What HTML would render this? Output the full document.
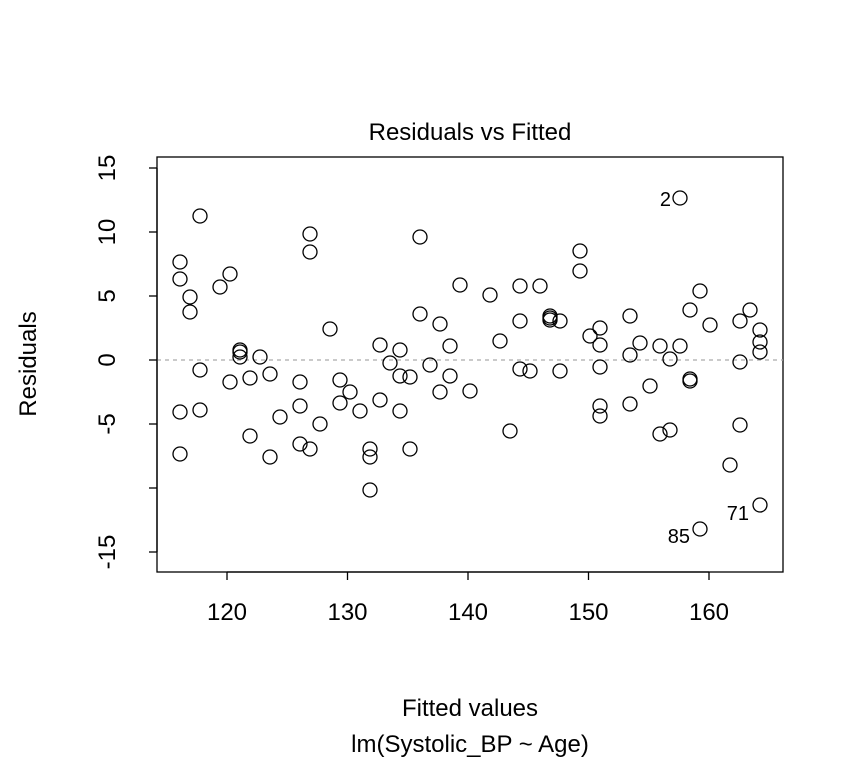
<!DOCTYPE html>
<html><head><meta charset="utf-8"><style>body{margin:0;background:#fff}</style></head>
<body>
<svg width="864" height="768" xmlns="http://www.w3.org/2000/svg" font-family="Liberation Sans, Arial, sans-serif">
<rect width="864" height="768" fill="#fff"/>
<rect x="157" y="157" width="626" height="415" fill="none" stroke="#000" stroke-width="1.3"/>
<line x1="157" y1="360" x2="783" y2="360" stroke="#aaa" stroke-dasharray="4,4" stroke-width="1.3"/>
<g stroke="#000" stroke-width="1.3">
<line x1="227" y1="572" x2="709" y2="572"/>
<line x1="227" y1="572" x2="227" y2="580"/><line x1="347.5" y1="572" x2="347.5" y2="580"/>
<line x1="468" y1="572" x2="468" y2="580"/><line x1="588.5" y1="572" x2="588.5" y2="580"/><line x1="709" y1="572" x2="709" y2="580"/>
<line x1="157" y1="168" x2="157" y2="552"/>
<line x1="149" y1="168" x2="157" y2="168"/><line x1="149" y1="232" x2="157" y2="232"/><line x1="149" y1="296" x2="157" y2="296"/>
<line x1="149" y1="360" x2="157" y2="360"/><line x1="149" y1="424" x2="157" y2="424"/><line x1="149" y1="488" x2="157" y2="488"/><line x1="149" y1="552" x2="157" y2="552"/>
</g>
<g font-size="24" text-anchor="middle">
<text x="227" y="620">120</text><text x="347.5" y="620">130</text><text x="468" y="620">140</text><text x="588.5" y="620">150</text><text x="709" y="620">160</text>
<g transform="rotate(-90)">
<text x="-168" y="115">15</text><text x="-232" y="115">10</text><text x="-296" y="115">5</text><text x="-360" y="115">0</text><text x="-424" y="115">-5</text><text x="-552" y="115">-15</text>
<text x="-364" y="36">Residuals</text>
</g>
<text x="470" y="140">Residuals vs Fitted</text>
<text x="470" y="716">Fitted values</text>
<text x="470" y="752">lm(Systolic_BP ~ Age)</text>
</g>
<g font-size="20" text-anchor="end"><text x="671" y="206">2</text><text x="690" y="543">85</text><text x="749" y="520">71</text></g>
<g fill="none" stroke="#000" stroke-width="1.3">
<circle cx="180" cy="262" r="7"/><circle cx="180" cy="279" r="7"/><circle cx="180" cy="412" r="7"/><circle cx="180" cy="454" r="7"/><circle cx="190" cy="297" r="7"/><circle cx="190" cy="312" r="7"/><circle cx="200" cy="216" r="7"/><circle cx="200" cy="370" r="7"/><circle cx="200" cy="410" r="7"/><circle cx="220" cy="287" r="7"/><circle cx="230" cy="274" r="7"/><circle cx="230" cy="382" r="7"/><circle cx="240" cy="350" r="7"/><circle cx="240" cy="352" r="7"/><circle cx="240" cy="357" r="7"/><circle cx="250" cy="378" r="7"/><circle cx="250" cy="436" r="7"/><circle cx="260" cy="357" r="7"/><circle cx="270" cy="374" r="7"/><circle cx="270" cy="457" r="7"/><circle cx="280" cy="417" r="7"/><circle cx="300" cy="382" r="7"/><circle cx="300" cy="406" r="7"/><circle cx="300" cy="444" r="7"/><circle cx="310" cy="234" r="7"/><circle cx="310" cy="252" r="7"/><circle cx="310" cy="449" r="7"/><circle cx="320" cy="424" r="7"/><circle cx="330" cy="329" r="7"/><circle cx="340" cy="380" r="7"/><circle cx="340" cy="403" r="7"/><circle cx="350" cy="392" r="7"/><circle cx="360" cy="411" r="7"/><circle cx="370" cy="449" r="7"/><circle cx="370" cy="457" r="7"/><circle cx="370" cy="490" r="7"/><circle cx="380" cy="345" r="7"/><circle cx="380" cy="400" r="7"/><circle cx="390" cy="363" r="7"/><circle cx="400" cy="350" r="7"/><circle cx="400" cy="376" r="7"/><circle cx="400" cy="411" r="7"/><circle cx="410" cy="377" r="7"/><circle cx="410" cy="449" r="7"/><circle cx="420" cy="237" r="7"/><circle cx="420" cy="314" r="7"/><circle cx="430" cy="365" r="7"/><circle cx="440" cy="324" r="7"/><circle cx="440" cy="392" r="7"/><circle cx="450" cy="346" r="7"/><circle cx="450" cy="376" r="7"/><circle cx="460" cy="285" r="7"/><circle cx="470" cy="391" r="7"/><circle cx="490" cy="295" r="7"/><circle cx="500" cy="341" r="7"/><circle cx="510" cy="431" r="7"/><circle cx="520" cy="286" r="7"/><circle cx="520" cy="321" r="7"/><circle cx="520" cy="369" r="7"/><circle cx="530" cy="371" r="7"/><circle cx="540" cy="286" r="7"/><circle cx="550" cy="316" r="7"/><circle cx="550" cy="318" r="7"/><circle cx="550" cy="320" r="7"/><circle cx="560" cy="321" r="7"/><circle cx="560" cy="371" r="7"/><circle cx="580" cy="251" r="7"/><circle cx="580" cy="271" r="7"/><circle cx="590" cy="336" r="7"/><circle cx="600" cy="328" r="7"/><circle cx="600" cy="345" r="7"/><circle cx="600" cy="367" r="7"/><circle cx="600" cy="406" r="7"/><circle cx="600" cy="416" r="7"/><circle cx="630" cy="316" r="7"/><circle cx="630" cy="355" r="7"/><circle cx="630" cy="404" r="7"/><circle cx="640" cy="343" r="7"/><circle cx="650" cy="386" r="7"/><circle cx="660" cy="346" r="7"/><circle cx="660" cy="434" r="7"/><circle cx="670" cy="359" r="7"/><circle cx="670" cy="430" r="7"/><circle cx="680" cy="198" r="7"/><circle cx="680" cy="346" r="7"/><circle cx="690" cy="310" r="7"/><circle cx="690" cy="379" r="7"/><circle cx="690" cy="381" r="7"/><circle cx="700" cy="291" r="7"/><circle cx="700" cy="529" r="7"/><circle cx="710" cy="325" r="7"/><circle cx="730" cy="465" r="7"/><circle cx="740" cy="321" r="7"/><circle cx="740" cy="362" r="7"/><circle cx="740" cy="425" r="7"/><circle cx="750" cy="310" r="7"/><circle cx="760" cy="330" r="7"/><circle cx="760" cy="342" r="7"/><circle cx="760" cy="352" r="7"/><circle cx="760" cy="505" r="7"/>
</g>
</svg>
</body></html>
